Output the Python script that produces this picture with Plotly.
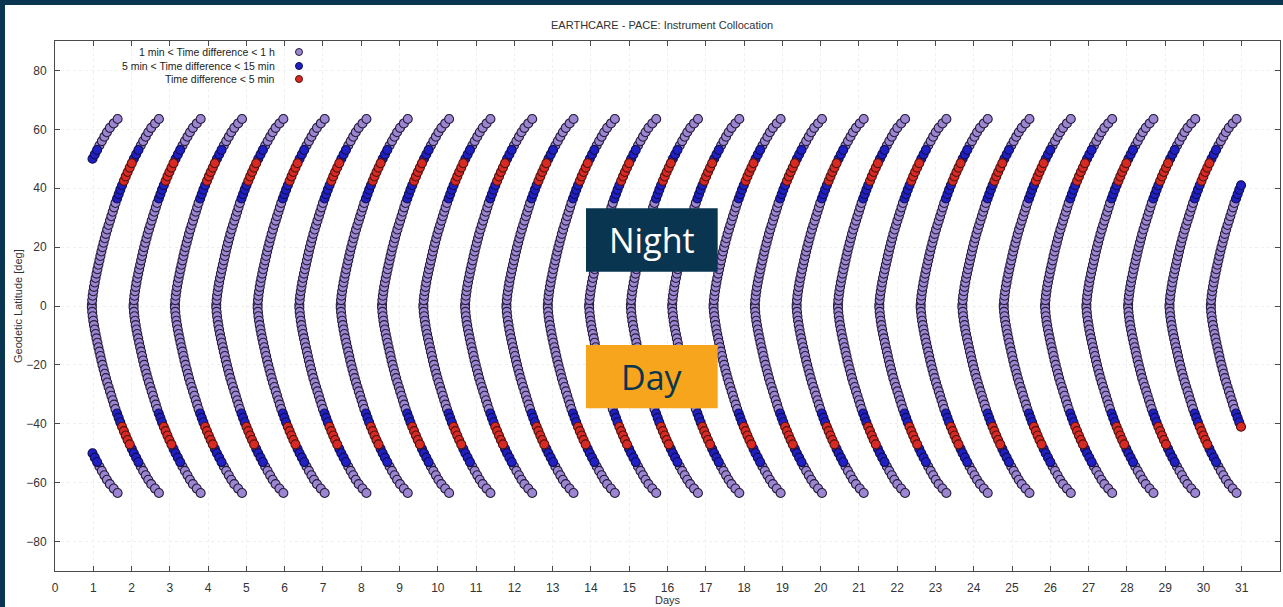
import plotly.graph_objects as go

# ---------------- data ----------------
chart_title = "EARTHCARE - PACE: Instrument Collocation"
x_title = "Days"
y_title = "Geodetic Latitude [deg]"
legend_labels = [
    "1 min < Time difference < 1 h",
    "5 min < Time difference < 15 min",
    "Time difference < 5 min",
]

# day at which each collocation arc crosses the equator
arc_equator_day = [-0.12, 0.96, 2.05, 3.13, 4.21, 5.29, 6.38, 7.46, 8.54, 9.62,
                   10.71, 11.79, 12.87, 13.95, 15.04, 16.12, 17.20, 18.28, 19.37,
                   20.45, 21.53, 22.61, 23.70, 24.78, 25.86, 26.94, 28.03, 29.11,
                   30.19]

# shape of one arc: absolute latitude of the collocations and day offset from equator crossing
arc_abs_lat = [0.5, 2.0, 3.5, 5.0, 6.5, 8.0, 9.5, 11.0, 12.5, 14.0, 15.5, 17.0, 18.5,
               20.0, 21.5, 23.0, 24.5, 26.0, 27.5, 29.0, 30.5, 32.0, 33.5, 35.0, 36.5,
               38.0, 39.5, 41.0, 42.5, 44.0, 45.5, 47.0, 48.5, 50.0, 51.5, 53.0, 54.5,
               56.0, 57.5, 59.0, 60.5, 62.0, 63.5]
arc_day_offset = [0.003, 0.012, 0.024, 0.04, 0.058, 0.078, 0.1, 0.124, 0.148, 0.174,
                  0.2, 0.226, 0.252, 0.28, 0.31, 0.34, 0.37, 0.404, 0.44, 0.476,
                  0.512, 0.548, 0.584, 0.62, 0.662, 0.704, 0.746, 0.792, 0.84, 0.888,
                  0.938, 0.992, 1.046, 1.10, 1.16, 1.22, 1.28, 1.344, 1.41, 1.476,
                  1.553, 1.653, 1.755]

# time window covered by the data
data_start_day = 0.96
data_end_day = 31.0

# latitude bands of the closer collocations (north, south as |lat|)
blue_band_north = [36.0, 53.5]
red_band_north = [41.5, 48.6]
blue_band_south = [36.0, 53.5]
red_band_south = [41.0, 48.0]

x_ticks = list(range(0, 33))
y_ticks = [-80, -60, -40, -20, 0, 20, 40, 60, 80]

# ---------------- build point classes ----------------
pts = {"purple": ([], []), "blue": ([], []), "red": ([], [])}
for base in arc_equator_day:
    for lat, dx in zip(arc_abs_lat, arc_day_offset):
        day = base + dx
        if day < data_start_day or day > data_end_day:
            continue
        for sign, blue_b, red_b in ((1, blue_band_north, red_band_north),
                                    (-1, blue_band_south, red_band_south)):
            if red_b[0] <= lat <= red_b[1]:
                cls = "red"
            elif blue_b[0] <= lat <= blue_b[1]:
                cls = "blue"
            else:
                cls = "purple"
            pts[cls][0].append(day)
            pts[cls][1].append(sign * lat)

styles = {
    "purple": dict(color="#9c86d2", line=dict(color="#241c38", width=1.1)),
    "blue": dict(color="#1f1fc4", line=dict(color="#100e50", width=1.1)),
    "red": dict(color="#d82a24", line=dict(color="#501210", width=1.1)),
}
names = {"purple": legend_labels[0], "blue": legend_labels[1], "red": legend_labels[2]}

fig = go.Figure()
for cls in ["purple", "blue", "red"]:
    xs, ys = pts[cls]
    fig.add_trace(go.Scatter(
        x=xs, y=ys, mode="markers", name=names[cls], showlegend=False,
        marker=dict(size=9, symbol="circle", **styles[cls]),
    ))

# ---------------- layout ----------------
W, H = 1283, 607
L, R, T, B = 55, 3, 41, 36
pw, ph = W - L - R, H - T - B


def px(xp):
    return (xp - L) / pw


def py(yp):
    return (H - B - yp) / ph


FONT = "Liberation Sans, Arial, sans-serif"
NAVY = "#0a3550"

axis_common = dict(
    showline=True, linecolor="#4a4a4a", linewidth=1, mirror="ticks",
    ticks="inside", ticklen=5, tickcolor="#4a4a4a",
    showgrid=True, gridcolor="#efefef", griddash="dot", gridwidth=1,
    zeroline=False, tickfont=dict(family=FONT, size=12, color="#333333"),
)

fig.update_layout(
    width=W, height=H,
    margin=dict(l=L, r=R, t=T, b=B),
    paper_bgcolor="white", plot_bgcolor="white",
    showlegend=False,
    xaxis=dict(range=[0, 32], tickvals=x_ticks, ticklabelstandoff=6, **axis_common),
    yaxis=dict(range=[-90, 90], tickvals=y_ticks, ticklabelstandoff=5, **axis_common),
)

shapes = [
    # dark frame strips (left and top)
    dict(type="rect", xref="paper", yref="paper", x0=px(0), x1=px(5), y0=py(H), y1=py(0),
         fillcolor=NAVY, line=dict(width=0), layer="above"),
    dict(type="rect", xref="paper", yref="paper", x0=px(0), x1=px(W), y0=py(5), y1=py(0),
         fillcolor=NAVY, line=dict(width=0), layer="above"),
    # Night / Day boxes
    dict(type="rect", xref="paper", yref="paper", x0=px(586), x1=px(717.7),
         y0=py(271.7), y1=py(208.3), fillcolor=NAVY, line=dict(width=0), layer="above"),
    dict(type="rect", xref="paper", yref="paper", x0=px(586), x1=px(717.7),
         y0=py(408.3), y1=py(345), fillcolor="#f6a51d", line=dict(width=0), layer="above"),
]

legend_y = [52, 66, 79]
for cls, yy in zip(["purple", "blue", "red"], legend_y):
    shapes.append(dict(
        type="circle", xref="paper", yref="paper", xsizemode="pixel", ysizemode="pixel",
        xanchor=px(299), yanchor=py(yy), x0=-3.5, x1=3.5, y0=-3.5, y1=3.5,
        fillcolor=styles[cls]["color"], line=dict(color=styles[cls]["line"]["color"], width=1),
        layer="above",
    ))

annotations = [
    dict(text=chart_title, x=px(662), y=py(25), xref="paper", yref="paper",
         showarrow=False, xanchor="center", yanchor="middle",
         font=dict(family=FONT, size=11, color="#333333")),
    dict(text=x_title, x=px(668), y=py(600), xref="paper", yref="paper",
         showarrow=False, xanchor="center", yanchor="middle",
         font=dict(family=FONT, size=11, color="#333333")),
    dict(text=y_title, x=px(18), y=py(306), xref="paper", yref="paper",
         showarrow=False, xanchor="center", yanchor="middle", textangle=-90,
         font=dict(family=FONT, size=11, color="#333333")),
    dict(text="Night", x=px(651.8), y=py(240), xref="paper", yref="paper",
         showarrow=False, xanchor="center", yanchor="middle",
         font=dict(family="Open Sans, sans-serif", size=34, color="white")),
    dict(text="Day", x=px(651.8), y=py(376.7), xref="paper", yref="paper",
         showarrow=False, xanchor="center", yanchor="middle",
         font=dict(family="Open Sans, sans-serif", size=34, color=NAVY)),
]
for lab, yy in zip(legend_labels, legend_y):
    annotations.append(dict(
        text=lab, x=px(277), y=py(yy), xref="paper", yref="paper",
        showarrow=False, xanchor="right", yanchor="middle",
        font=dict(family=FONT, size=10.5, color="#222222")))

fig.update_layout(shapes=shapes, annotations=annotations)

fig.write_html(
    "out.html",
    config={"displayModeBar": False},
    post_script="document.body.style.margin='0';document.body.style.padding='0';"
                "document.body.style.overflow='hidden';",
)
